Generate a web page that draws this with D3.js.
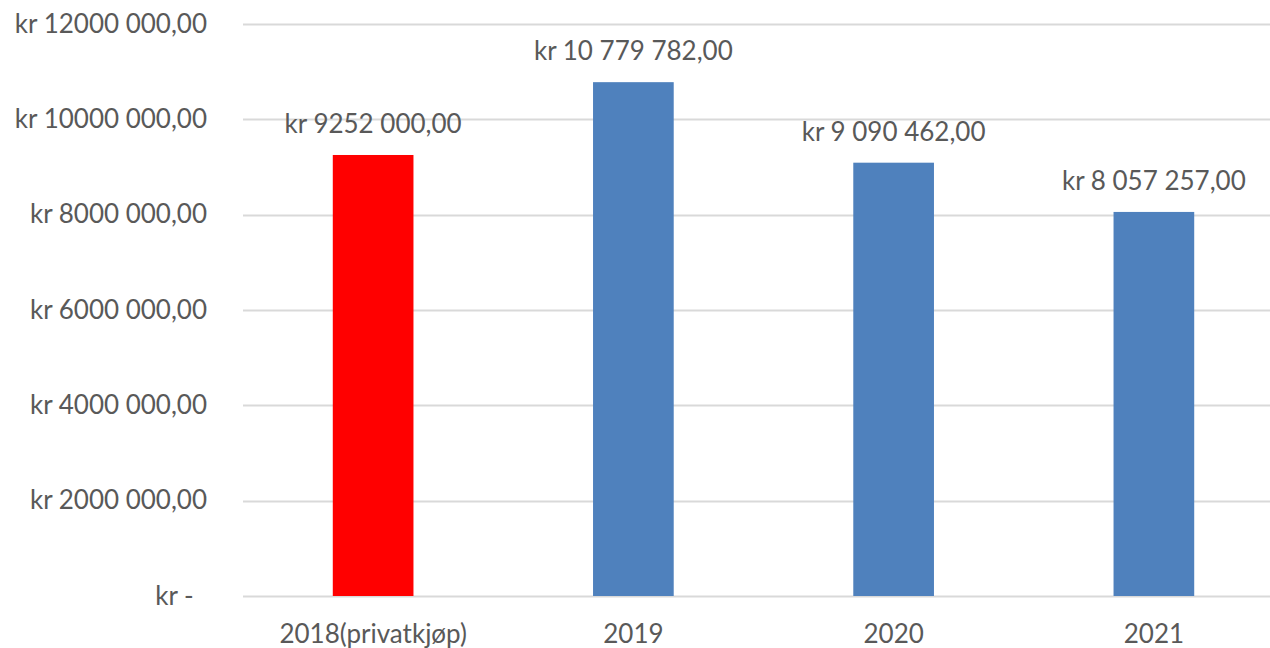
<!DOCTYPE html>
<html>
<head>
<meta charset="utf-8">
<script src="https://cdn.jsdelivr.net/npm/d3@7"></script>
<style>
  body { margin: 0; background: #fff; }
  text { font-family: Lato, "Open Sans", sans-serif; fill: #595959; }
</style>
</head>
<body>
<div id="chart"></div>
<script>
var width = 1270, height = 648;

// data
var categories = ["2018(privatkjøp)", "2019", "2020", "2021"];
var values = [9252000, 10779782, 9090462, 8057257];
var valueLabels = ["kr 9252 000,00", "kr 10 779 782,00", "kr 9 090 462,00", "kr 8 057 257,00"];
var barColors = ["#ff0000", "#4f81bd", "#4f81bd", "#4f81bd"];
var tickValues = [0, 2000000, 4000000, 6000000, 8000000, 10000000, 12000000];
var tickLabels = ["kr -  ", "kr 2000 000,00", "kr 4000 000,00", "kr 6000 000,00", "kr 8000 000,00", "kr 10000 000,00", "kr 12000 000,00"];

var fontSize = "26px";

// scales
var x = d3.scaleBand()
    .domain(categories)
    .range([243, 1284])
    .paddingInner(0.69)
    .paddingOuter(0.345);

var y = d3.scaleLinear()
    .domain([0, 12000000])
    .range([596, 24]);

var svg = d3.select("#chart").append("svg")
    .attr("width", width)
    .attr("height", height);

// gridlines
svg.append("g").selectAll("line")
    .data(tickValues)
  .enter().append("line")
    .attr("x1", 243)
    .attr("x2", width)
    .attr("y1", function(d) { return Math.round(y(d)) + 0.5; })
    .attr("y2", function(d) { return Math.round(y(d)) + 0.5; })
    .style("stroke", "#d9d9d9")
    .style("stroke-width", 2);

// y axis labels
var yAxis = d3.axisLeft(y)
    .tickValues(tickValues)
    .tickFormat(function(d, i) { return tickLabels[i]; })
    .tickSize(0)
    .tickPadding(0);

svg.append("g")
    .attr("transform", "translate(207,0)")
    .call(yAxis)
    .call(function(g) { g.select(".domain").remove(); })
    .selectAll("text")
    .style("font-family", "Lato, sans-serif")
    .style("font-size", fontSize)
    .style("fill", "#595959")
    .style("white-space", "pre");

// bars
svg.append("g").selectAll("rect")
    .data(values)
  .enter().append("rect")
    .attr("x", function(d, i) { return x(categories[i]); })
    .attr("width", x.bandwidth())
    .attr("y", function(d) { return y(d); })
    .attr("height", function(d) { return y(0) - y(d); })
    .style("fill", function(d, i) { return barColors[i]; });

// value labels
svg.append("g").selectAll("text")
    .data(values)
  .enter().append("text")
    .attr("x", function(d, i) { return x(categories[i]) + x.bandwidth() / 2; })
    .attr("y", function(d) { return y(d) - 22; })
    .attr("text-anchor", "middle")
    .style("font-size", fontSize)
    .text(function(d, i) { return valueLabels[i]; });

// x axis labels
var xAxis = d3.axisBottom(x).tickSize(0).tickPadding(0);
svg.append("g")
    .attr("transform", "translate(0,643)")
    .call(xAxis)
    .call(function(g) { g.select(".domain").remove(); })
    .selectAll("text")
    .attr("y", 0)
    .attr("dy", 0)
    .style("font-family", "Lato, sans-serif")
    .style("font-size", fontSize)
    .style("fill", "#595959");
</script>
</body>
</html>
